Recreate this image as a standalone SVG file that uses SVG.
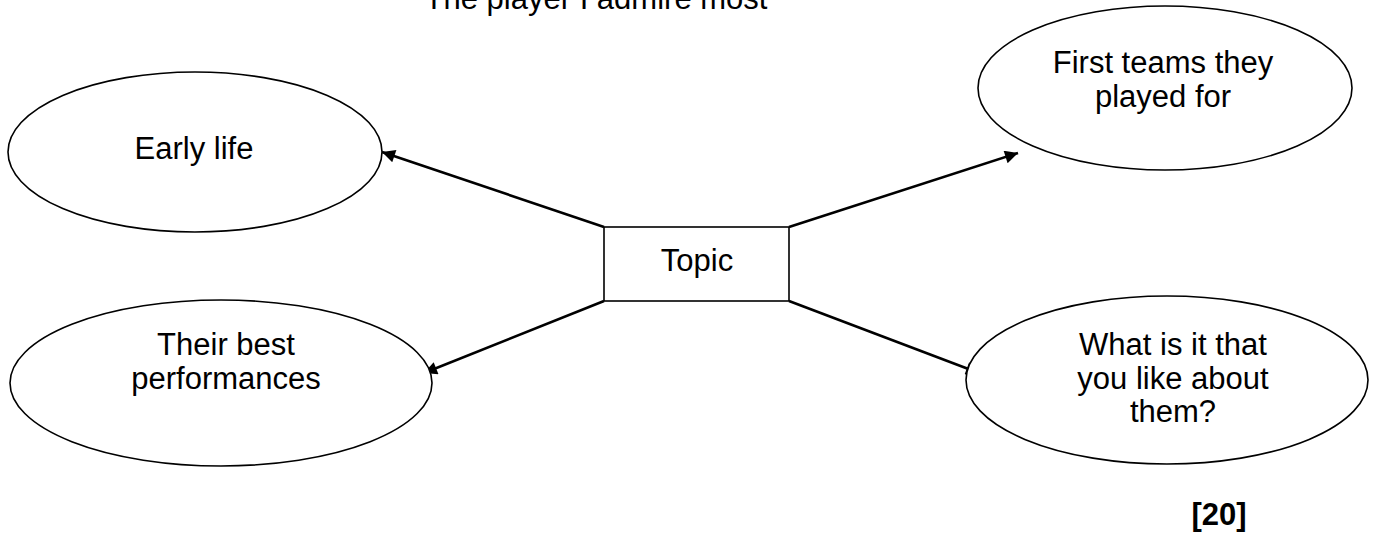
<svg xmlns="http://www.w3.org/2000/svg" width="1376" height="540" viewBox="0 0 1376 540">
<defs>
<style>
text{font-family:"Liberation Sans",Arial,sans-serif;font-size:31px;fill:#000;text-anchor:middle}
.node{fill:#fff;stroke:#000;stroke-width:1.6}
.conn{stroke:#000;stroke-width:2.6;fill:none;marker-end:url(#ah)}
.b{font-weight:bold}
</style>
<marker id="ah" viewBox="0 0 10 10" refX="10" refY="5" markerWidth="6" markerHeight="5" markerUnits="strokeWidth" orient="auto"><path d="M0,0 L10,5 L0,10 z" fill="#000"/></marker>
</defs>
<rect width="1376" height="540" fill="#fff"/>
<text id="title" x="596" y="9">The player I admire most</text>
<g id="connectors">
<line class="conn" x1="604" y1="227" x2="382" y2="152"/>
<line class="conn" x1="789" y1="227" x2="1018" y2="153"/>
<line class="conn" x1="604" y1="301" x2="424" y2="373"/>
<line class="conn" x1="789" y1="301" x2="979" y2="373"/>
</g>
<g id="early-life"><ellipse class="node" cx="195" cy="152" rx="187" ry="80"/><text x="194" y="159">Early life</text></g>
<g id="first-teams"><ellipse class="node" cx="1165" cy="88" rx="187" ry="82"/><text x="1163" y="73">First teams they</text><text x="1163" y="107">played for</text></g>
<g id="best-performances"><ellipse class="node" cx="221" cy="383" rx="211" ry="83"/><text x="226" y="355">Their best</text><text x="226" y="389">performances</text></g>
<g id="like-about"><ellipse class="node" cx="1167" cy="380" rx="201" ry="84"/><text x="1173" y="355">What is it that</text><text x="1173" y="389">you like about</text><text x="1173" y="422">them?</text></g>
<g id="topic"><rect class="node" x="604" y="227" width="185" height="74"/><text x="697" y="271">Topic</text></g>
<text class="b" x="1219" y="525">[20]</text>
</svg>
